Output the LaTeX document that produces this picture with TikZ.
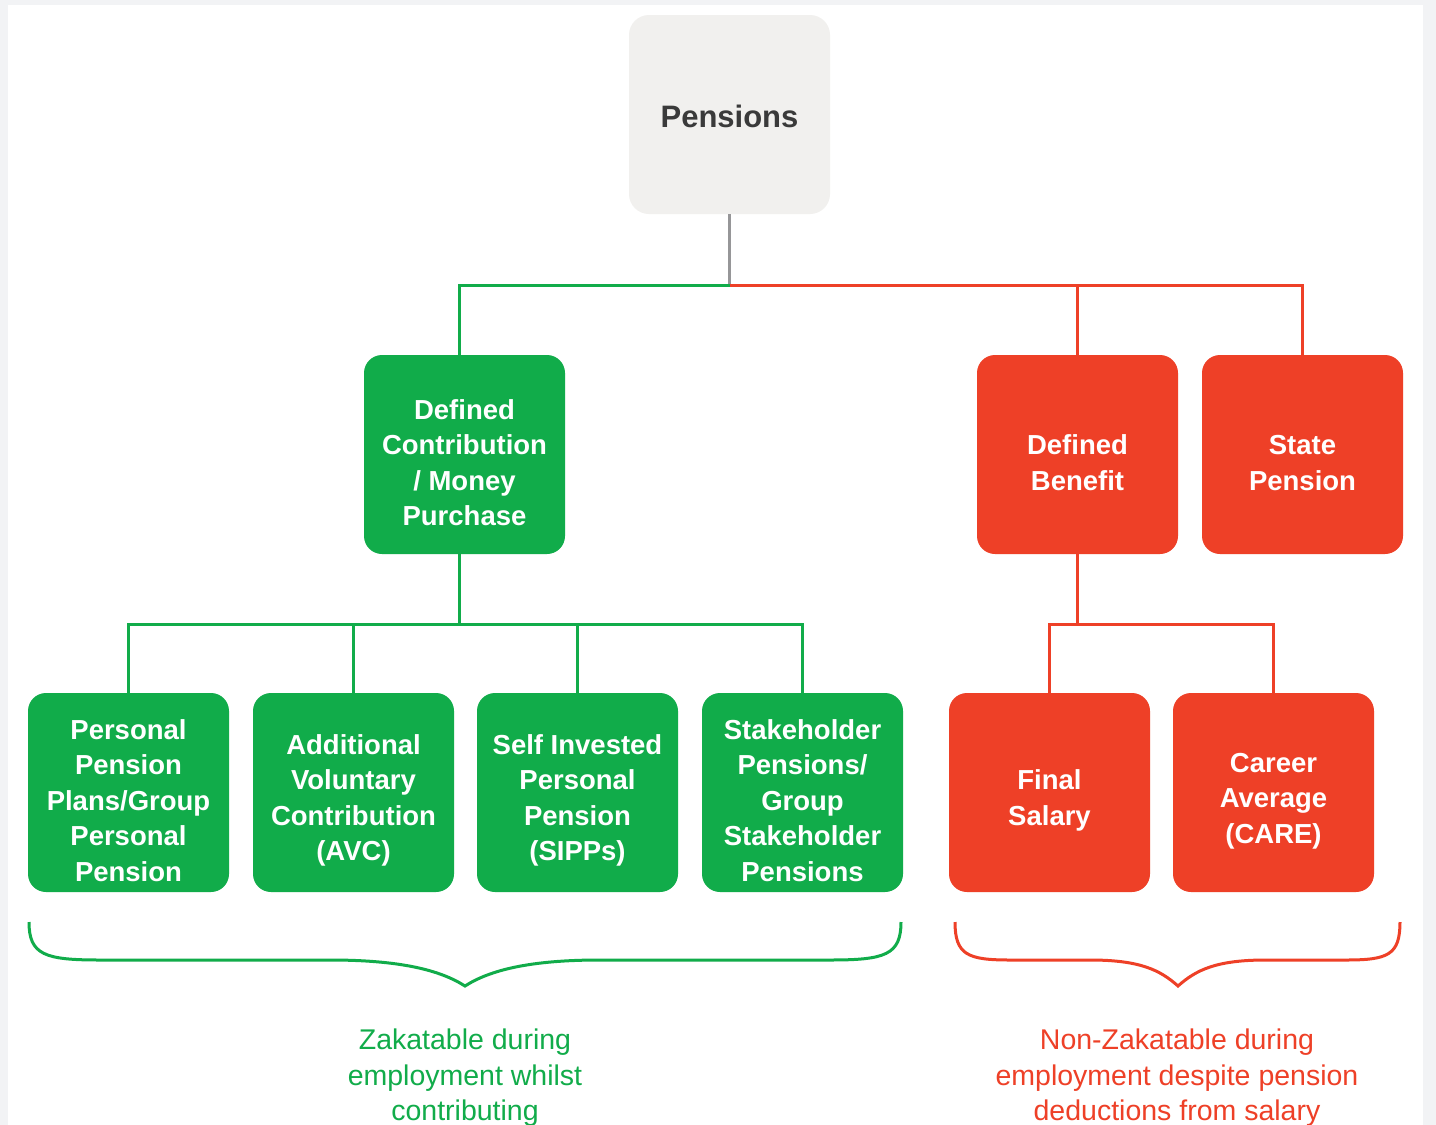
\documentclass[tikz,border=0pt]{standalone}
\usepackage{fontspec}
\setmainfont{Liberation Sans}
\usetikzlibrary{positioning}
\definecolor{pgreen}{RGB}{17,172,74}
\definecolor{pred}{RGB}{238,64,39}
\definecolor{pgray}{RGB}{241,240,238}
\definecolor{ptext}{RGB}{58,58,58}
\definecolor{pline}{RGB}{150,150,152}
\definecolor{pback}{RGB}{242,243,245}
\newcommand{\boxstrut}{\rule{0pt}{36pt}}
\tikzstyle{topbox}=[rectangle,fill=pgray,text=ptext,minimum width=201pt,minimum height=199pt,rounded corners=20pt,inner sep=0pt,font=\fontsize{31}{36}\selectfont\bfseries]
\tikzstyle{greenbox}=[rectangle,fill=pgreen,text=white,minimum width=201pt,minimum height=199pt,rounded corners=18pt,align=center,inner sep=0pt,font=\fontsize{27.5}{35.5}\selectfont\bfseries]
\tikzstyle{redbox}=[greenbox,fill=pred]
\tikzstyle{greenline}=[draw=pgreen,line width=3pt]
\tikzstyle{redline}=[draw=pred,line width=3pt]
\tikzstyle{grayline}=[draw=pline,line width=3pt]
\tikzstyle{note}=[align=center,inner sep=0pt,anchor=north,font=\fontsize{28.5}{35.5}\selectfont]

\begin{document}
\begin{tikzpicture}[x=1pt,y=-1pt]
	\def \top {285}
	\def \mid {624}
	\def \bra {922}
	\def \lev {960}
	\def \tip {986}

	\useasboundingbox (0,0) rectangle (1436,1125);
	\clip (0,0) rectangle (1436,1125);
	\fill[pback] (0,0) rectangle (1436,1125);
	\fill[white] (8,5) rectangle (1423,1125);

	% top level
	\node[topbox] (pens) at (729.5,114.5) {\rule{0pt}{26pt}Pensions};
	\node[greenbox] (dc) at (464.5,454.5) {\boxstrut Defined\\Contribution\\/ Money\\Purchase};
	\node[redbox] (db) at (1077.5,454.5) {\boxstrut Defined\\Benefit};
	\node[redbox] (sp) at (1302.5,454.5) {\boxstrut State\\Pension};

	% bottom level
	\node[greenbox] (ppp) at (128.5,792.5) {\boxstrut Personal\\Pension\\Plans/Group\\Personal\\Pension};
	\node[greenbox] (avc) at (353.5,792.5) {\boxstrut Additional\\Voluntary\\Contribution\\(AVC)};
	\node[greenbox] (sipp) at (577.5,792.5) {\boxstrut Self Invested\\Personal\\Pension\\(SIPPs)};
	\node[greenbox] (stake) at (802.5,792.5) {\boxstrut Stakeholder\\Pensions/\\Group\\Stakeholder\\Pensions};
	\node[redbox] (fs) at (1049.5,792.5) {\boxstrut Final\\Salary};
	\node[redbox] (care) at (1273.5,792.5) {\boxstrut Career\\Average\\(CARE)};

	\coordinate (jtop) at (729.5,\top);
	\coordinate (jdc) at (459,\mid);
	\coordinate (jdb) at (1077.5,\mid);

	\draw[grayline] (pens.south) -- (jtop);
	\draw[greenline] (jtop) -| ([xshift=-5.5pt]dc.north);
	\draw[redline] (jtop) -| (db.north);
	\draw[redline] (jtop) -| (sp.north);

	\draw[greenline] ([xshift=-5.5pt]dc.south) -- (jdc);
	\draw[greenline] (jdc) -| (ppp.north);
	\draw[greenline] (jdc) -| (avc.north);
	\draw[greenline] (jdc) -| (sipp.north);
	\draw[greenline] (jdc) -| (stake.north);

	\draw[redline] (db.south) -- (jdb);
	\draw[redline] (jdb) -| (fs.north);
	\draw[redline] (jdb) -| (care.north);

	% braces
	\draw[greenline] (29,\bra) .. controls (29,955) and (45,\lev) .. (100,\lev) -- (330,\lev)
		.. controls (400,\lev) and (440,970) .. (465,\tip)
		.. controls (490,970) and (530,\lev) .. (600,\lev) -- (830,\lev)
		.. controls (885,\lev) and (901,955) .. (901,\bra);
	\draw[redline] (955,\bra) .. controls (955,955) and (968,\lev) .. (1010,\lev) -- (1090,\lev)
		.. controls (1140,\lev) and (1160,970) .. (1178,\tip)
		.. controls (1196,970) and (1216,\lev) .. (1266,\lev) -- (1346,\lev)
		.. controls (1388,\lev) and (1400,955) .. (1400,\bra);

	\node[note,text=pgreen] (zak) at (465,1029) {Zakatable during\\employment whilst\\contributing};
	\node[note,text=pred] (nonzak) at (1177,1029) {Non-Zakatable during\\employment despite pension\\deductions from salary};
\end{tikzpicture}
\end{document}
